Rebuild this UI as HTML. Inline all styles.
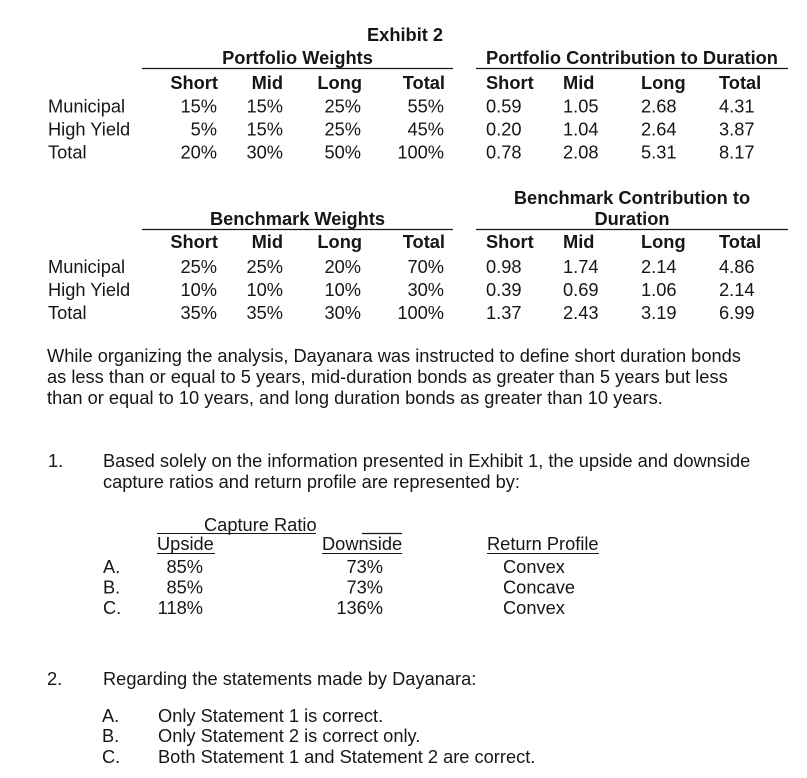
<!DOCTYPE html>
<html>
<head>
<meta charset="utf-8">
<style>
  html, body { margin: 0; padding: 0; background: #fff; }
  body { width: 807px; height: 778px; overflow: hidden; }
  svg { display: block; }
  text { font-family: "Liberation Sans", Arial, sans-serif; font-size: 18.25px; fill: #161616; }
  .b { font-weight: bold; }
  .e { text-anchor: end; }
  .m { text-anchor: middle; }
</style>
</head>
<body>
<svg width="807" height="778" viewBox="0 0 807 778" xmlns="http://www.w3.org/2000/svg">
  <!-- Exhibit 2 -->
  <text class="b" x="367" y="41">Exhibit 2</text>

  <!-- Block 1 headings -->
  <text class="b m" x="297.5" y="64">Portfolio Weights</text>
  <line x1="142" y1="68.5" x2="453" y2="68.5" stroke="#161616" stroke-width="1.3"/>
  <text class="b m" x="632" y="64">Portfolio Contribution to Duration</text>
  <line x1="476" y1="68.5" x2="788" y2="68.5" stroke="#161616" stroke-width="1.3"/>

  <text class="b e" x="218" y="89">Short</text>
  <text class="b e" x="283" y="89">Mid</text>
  <text class="b e" x="362" y="89">Long</text>
  <text class="b e" x="445" y="89">Total</text>
  <text class="b" x="486" y="89">Short</text>
  <text class="b" x="563" y="89">Mid</text>
  <text class="b" x="641" y="89">Long</text>
  <text class="b" x="719" y="89">Total</text>

  <text x="48" y="112.5">Municipal</text>
  <text x="48" y="135.5">High Yield</text>
  <text x="48" y="158.5">Total</text>

  <text class="e" x="217" y="112.5">15%</text>
  <text class="e" x="283" y="112.5">15%</text>
  <text class="e" x="361" y="112.5">25%</text>
  <text class="e" x="444" y="112.5">55%</text>
  <text class="e" x="217" y="135.5">5%</text>
  <text class="e" x="283" y="135.5">15%</text>
  <text class="e" x="361" y="135.5">25%</text>
  <text class="e" x="444" y="135.5">45%</text>
  <text class="e" x="217" y="158.5">20%</text>
  <text class="e" x="283" y="158.5">30%</text>
  <text class="e" x="361" y="158.5">50%</text>
  <text class="e" x="444" y="158.5">100%</text>

  <text x="486" y="112.5">0.59</text>
  <text x="563" y="112.5">1.05</text>
  <text x="641" y="112.5">2.68</text>
  <text x="719" y="112.5">4.31</text>
  <text x="486" y="135.5">0.20</text>
  <text x="563" y="135.5">1.04</text>
  <text x="641" y="135.5">2.64</text>
  <text x="719" y="135.5">3.87</text>
  <text x="486" y="158.5">0.78</text>
  <text x="563" y="158.5">2.08</text>
  <text x="641" y="158.5">5.31</text>
  <text x="719" y="158.5">8.17</text>

  <!-- Block 2 headings -->
  <text class="b m" x="297.5" y="225">Benchmark Weights</text>
  <line x1="142" y1="229.5" x2="453" y2="229.5" stroke="#161616" stroke-width="1.3"/>
  <text class="b m" x="632" y="204">Benchmark Contribution to</text>
  <text class="b m" x="632" y="225">Duration</text>
  <line x1="476" y1="229.5" x2="788" y2="229.5" stroke="#161616" stroke-width="1.3"/>

  <text class="b e" x="218" y="248">Short</text>
  <text class="b e" x="283" y="248">Mid</text>
  <text class="b e" x="362" y="248">Long</text>
  <text class="b e" x="445" y="248">Total</text>
  <text class="b" x="486" y="248">Short</text>
  <text class="b" x="563" y="248">Mid</text>
  <text class="b" x="641" y="248">Long</text>
  <text class="b" x="719" y="248">Total</text>

  <text x="48" y="273">Municipal</text>
  <text x="48" y="296">High Yield</text>
  <text x="48" y="319">Total</text>

  <text class="e" x="217" y="273">25%</text>
  <text class="e" x="283" y="273">25%</text>
  <text class="e" x="361" y="273">20%</text>
  <text class="e" x="444" y="273">70%</text>
  <text class="e" x="217" y="296">10%</text>
  <text class="e" x="283" y="296">10%</text>
  <text class="e" x="361" y="296">10%</text>
  <text class="e" x="444" y="296">30%</text>
  <text class="e" x="217" y="319">35%</text>
  <text class="e" x="283" y="319">35%</text>
  <text class="e" x="361" y="319">30%</text>
  <text class="e" x="444" y="319">100%</text>

  <text x="486" y="273">0.98</text>
  <text x="563" y="273">1.74</text>
  <text x="641" y="273">2.14</text>
  <text x="719" y="273">4.86</text>
  <text x="486" y="296">0.39</text>
  <text x="563" y="296">0.69</text>
  <text x="641" y="296">1.06</text>
  <text x="719" y="296">2.14</text>
  <text x="486" y="319">1.37</text>
  <text x="563" y="319">2.43</text>
  <text x="641" y="319">3.19</text>
  <text x="719" y="319">6.99</text>

  <!-- Paragraph -->
  <text x="47" y="362">While organizing the analysis, Dayanara was instructed to define short duration bonds</text>
  <text x="47" y="383">as less than or equal to 5 years, mid-duration bonds as greater than 5 years but less</text>
  <text x="47" y="404">than or equal to 10 years, and long duration bonds as greater than 10 years.</text>

  <!-- Question 1 -->
  <text x="48" y="467">1.</text>
  <text x="103" y="467">Based solely on the information presented in Exhibit 1, the upside and downside</text>
  <text x="103" y="488">capture ratios and return profile are represented by:</text>

  <text x="204" y="531">Capture Ratio</text>
  <line x1="157" y1="533.5" x2="316" y2="533.5" stroke="#161616" stroke-width="1.1"/>
  <line x1="362" y1="533.5" x2="402" y2="533.5" stroke="#161616" stroke-width="1.3"/>

  <text x="157" y="550">Upside</text>
  <line x1="157" y1="553.5" x2="215" y2="553.5" stroke="#161616" stroke-width="1.1"/>
  <text x="322" y="550">Downside</text>
  <line x1="322" y1="553.5" x2="402" y2="553.5" stroke="#161616" stroke-width="1.1"/>
  <text x="487" y="550">Return Profile</text>
  <line x1="487" y1="553.5" x2="599" y2="553.5" stroke="#161616" stroke-width="1.1"/>

  <text x="103" y="573">A.</text>
  <text x="103" y="593.5">B.</text>
  <text x="103" y="614">C.</text>
  <text class="e" x="203" y="573">85%</text>
  <text class="e" x="203" y="593.5">85%</text>
  <text class="e" x="203" y="614">118%</text>
  <text class="e" x="383" y="573">73%</text>
  <text class="e" x="383" y="593.5">73%</text>
  <text class="e" x="383" y="614">136%</text>
  <text x="503" y="573">Convex</text>
  <text x="503" y="593.5">Concave</text>
  <text x="503" y="614">Convex</text>

  <!-- Question 2 -->
  <text x="47" y="685">2.</text>
  <text x="103" y="685">Regarding the statements made by Dayanara:</text>

  <text x="102" y="722">A.</text>
  <text x="158" y="722">Only Statement 1 is correct.</text>
  <text x="102" y="742">B.</text>
  <text x="158" y="742">Only Statement 2 is correct only.</text>
  <text x="102" y="763">C.</text>
  <text x="158" y="763">Both Statement 1 and Statement 2 are correct.</text>
</svg>
</body>
</html>
